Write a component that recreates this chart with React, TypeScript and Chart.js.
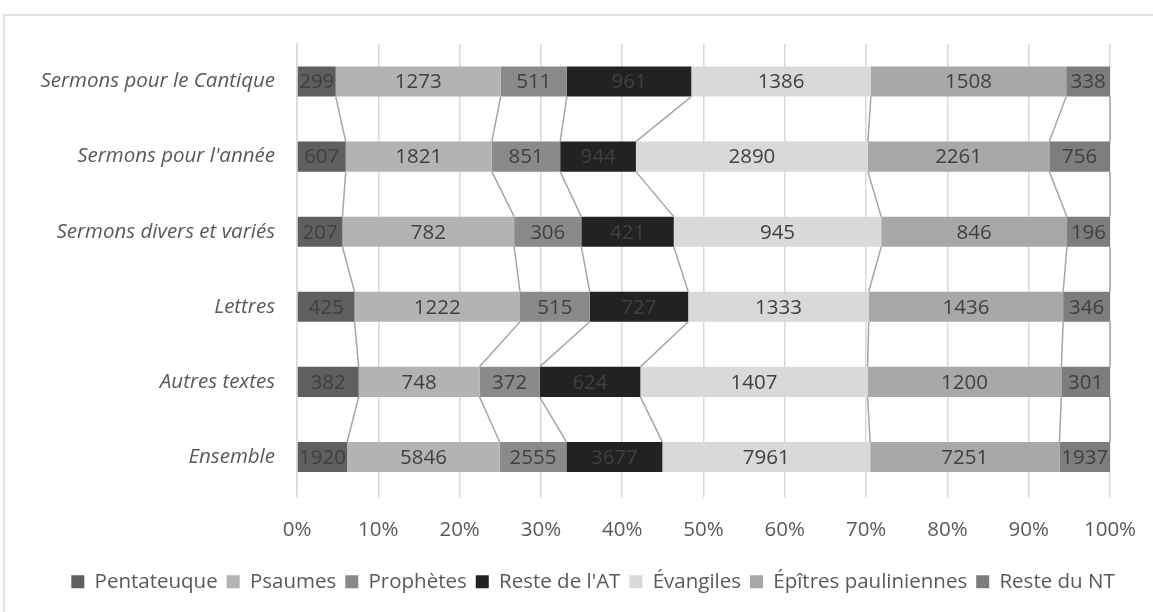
import React, { useEffect, useRef } from "react";
import { Chart, registerables } from "chart.js";

Chart.register(...registerables);

const categories = [
  "Sermons pour le Cantique",
  "Sermons pour l'année",
  "Sermons divers et variés",
  "Lettres",
  "Autres textes",
  "Ensemble",
];

const seriesNames = [
  "Pentateuque",
  "Psaumes",
  "Prophètes",
  "Reste de l'AT",
  "Évangiles",
  "Épîtres pauliniennes",
  "Reste du NT",
];

const pentateuque = [299, 607, 207, 425, 382, 1920];
const psaumes = [1273, 1821, 782, 1222, 748, 5846];
const prophetes = [511, 851, 306, 515, 372, 2555];
const resteAT = [961, 944, 421, 727, 624, 3677];
const evangiles = [1386, 2890, 945, 1333, 1407, 7961];
const epitres = [1508, 2261, 846, 1436, 1200, 7251];
const resteNT = [338, 756, 196, 346, 301, 1937];

const xTicks = [0, 10, 20, 30, 40, 50, 60, 70, 80, 90, 100];

const colors = ["#5f5f5f", "#b3b3b3", "#8a8a8a", "#222222", "#d9d9d9", "#a8a8a8", "#7d7d7d"];

const FONT = "'Open Sans', sans-serif";

export default function App() {
  const ref = useRef<HTMLCanvasElement | null>(null);

  useEffect(() => {
    document.body.style.margin = "0";
    const raw = [pentateuque, psaumes, prophetes, resteAT, evangiles, epitres, resteNT];
    const totals = categories.map((_, j) => raw.reduce((s, arr) => s + arr[j], 0));
    const datasets = raw.map((arr, i) => ({
      label: seriesNames[i],
      data: arr.map((v, j) => (v / totals[j]) * 100),
      raw: arr,
      backgroundColor: colors[i],
      borderWidth: 0,
      categoryPercentage: 1,
      barPercentage: 0.4,
    }));

    const borderPlugin = {
      id: "border",
      beforeDraw(chart: any) {
        const ctx = chart.ctx;
        ctx.save();
        ctx.strokeStyle = "#d9d9d9";
        ctx.lineWidth = 1.5;
        ctx.strokeRect(4, 15, 1300, 800);
        ctx.restore();
      },
    };

    const legendShift = {
      id: "legendShift",
      afterLayout(chart: any) {
        const l = chart.legend;
        if (l) {
          l.left += 38;
          l.right += 38;
        }
      },
    };

    const seriesLines = {
      id: "seriesLines",
      afterDatasetsDraw(chart: any) {
        const ctx = chart.ctx;
        ctx.save();
        ctx.strokeStyle = "#a6a6a6";
        ctx.lineWidth = 1.5;
        chart.data.datasets.forEach((_: any, i: number) => {
          const meta = chart.getDatasetMeta(i);
          for (let j = 0; j < meta.data.length - 1; j++) {
            const a = meta.data[j];
            const b = meta.data[j + 1];
            ctx.beginPath();
            ctx.moveTo(a.x, a.y + a.height / 2);
            ctx.lineTo(b.x, b.y - b.height / 2);
            ctx.stroke();
          }
        });
        ctx.restore();
      },
    };

    const labelsPlugin = {
      id: "barLabels",
      afterDatasetsDraw(chart: any) {
        const ctx = chart.ctx;
        ctx.save();
        ctx.font = `20.5px ${FONT}`;
        ctx.fillStyle = "#404040";
        ctx.textAlign = "center";
        ctx.textBaseline = "middle";
        chart.data.datasets.forEach((ds: any, i: number) => {
          const meta = chart.getDatasetMeta(i);
          meta.data.forEach((el: any, j: number) => {
            const cx = (el.x + el.base) / 2;
            ctx.fillText(String(ds.raw[j]), cx, el.y + 1);
          });
        });
        ctx.restore();
      },
    };

    const chart = new Chart(ref.current as HTMLCanvasElement, {
      type: "bar",
      data: { labels: categories, datasets: datasets as any },
      options: {
        indexAxis: "y",
        animation: false,
        responsive: false,
        devicePixelRatio: 1,
        layout: { padding: { top: 44, right: 43, left: 0, bottom: 10 } },
        scales: {
          x: {
            stacked: true,
            min: 0,
            max: 100,
            afterBuildTicks(scale: any) {
              scale.ticks = xTicks.map((v) => ({ value: v }));
            },
            afterFit(scale: any) {
              scale.height = 68;
              scale.paddingLeft = 0;
              scale.paddingRight = 0;
            },
            grid: {
              color: "#d9d9d9",
              lineWidth: 1.5,
              drawTicks: true,
              tickLength: 3,
              tickColor: "#d9d9d9",
              tickWidth: 1.5,
            },
            border: { display: false },
            ticks: {
              padding: 20,
              color: "#595959",
              font: { family: FONT, size: 20.5 },
              callback: (v: any) => `${v}%`,
            },
          },
          y: {
            stacked: true,
            afterFit(scale: any) {
              scale.width = 297;
            },
            grid: { display: false },
            border: { display: true, color: "#d9d9d9", width: 1.5 },
            ticks: {
              padding: 14,
              color: "#595959",
              font: { family: FONT, size: 20.5, style: "italic" },
            },
          },
        },
        plugins: {
          legend: {
            position: "bottom",
            labels: {
              boxWidth: 13,
              boxHeight: 13,
              padding: 9,
              color: "#595959",
              font: { family: FONT, size: 20.5 },
            },
          },
          tooltip: { enabled: false },
        },
      },
      plugins: [borderPlugin, legendShift, seriesLines, labelsPlugin],
    });
    return () => chart.destroy();
  }, []);

  return (
    <div style={{ width: 1153, height: 612 }}>
      <canvas ref={ref} width={1153} height={612} style={{ width: 1153, height: 612 }} />
    </div>
  );
}
